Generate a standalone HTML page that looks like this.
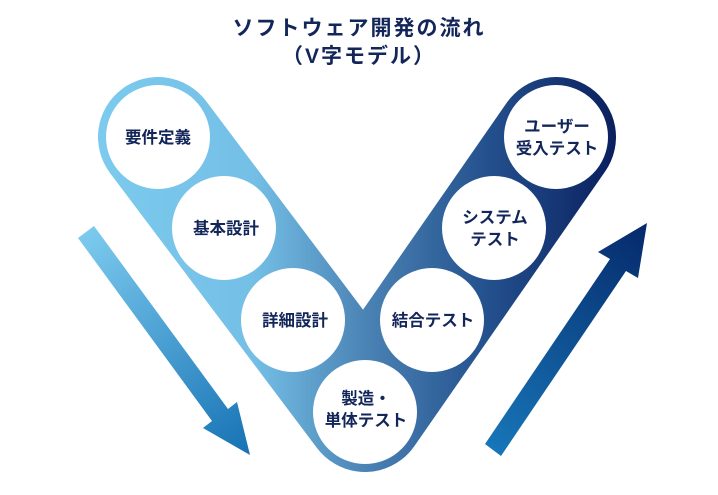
<!DOCTYPE html>
<html><head><meta charset="utf-8"><style>
html,body{margin:0;padding:0;background:#fff;}
body{width:718px;height:490px;overflow:hidden;}
svg text{font-family:"Liberation Sans","Noto Sans CJK JP",sans-serif;font-weight:bold;fill:#13265a;text-anchor:middle;}
</style></head><body>
<svg width="718" height="490" viewBox="0 0 718 490">
<defs>
<linearGradient id="band" gradientUnits="userSpaceOnUse" x1="98" y1="0" x2="616" y2="0">
<stop offset="0" stop-color="#7ccaee"/>
<stop offset="0.3" stop-color="#74bfe6"/>
<stop offset="0.52" stop-color="#4a82b4"/>
<stop offset="0.75" stop-color="#24518e"/>
<stop offset="1" stop-color="#0a1f5e"/>
</linearGradient>
<linearGradient id="la" gradientUnits="userSpaceOnUse" x1="86" y1="232" x2="250" y2="455">
<stop offset="0" stop-color="#7ccaee"/>
<stop offset="1" stop-color="#1672b4"/>
</linearGradient>
<linearGradient id="ra" gradientUnits="userSpaceOnUse" x1="493" y1="450" x2="647" y2="223">
<stop offset="0" stop-color="#1776b8"/>
<stop offset="1" stop-color="#05296a"/>
</linearGradient>
</defs>
<text x="359" y="35" font-size="21" letter-spacing="2">ソフトウェア開発の流れ</text>
<text x="359" y="63" font-size="21" letter-spacing="2">（V字モデル）</text>
<polyline points="158,137 365,412 556,137" fill="none" stroke="url(#band)" stroke-width="120" stroke-linecap="round" stroke-linejoin="round"/>
<polygon points="78,238 94,226 228,409 237,402 250,455 203,428 212,421" fill="url(#la)"/>
<polygon points="485,444 610,259 598,252 647,223 638,278 626,271 501,456" fill="url(#ra)"/>
<g fill="#fff">
<circle cx="158" cy="137" r="52"/>
<circle cx="224" cy="228" r="52"/>
<circle cx="293" cy="320" r="52"/>
<circle cx="365" cy="412" r="52"/>
<circle cx="432" cy="320" r="52"/>
<circle cx="494" cy="228" r="52"/>
<circle cx="556" cy="137" r="52"/>
</g>
<g font-size="16.5">
<text x="158" y="143">要件定義</text>
<text x="226" y="234">基本設計</text>
<text x="295" y="326">詳細設計</text>
<text x="366" y="404">製造・</text>
<text x="366" y="426">単体テスト</text>
<text x="433" y="326">結合テスト</text>
<text x="495" y="223">システム</text>
<text x="495" y="245">テスト</text>
<text x="557" y="132">ユーザー</text>
<text x="557" y="154">受入テスト</text>
</g>
</svg>
</body></html>
